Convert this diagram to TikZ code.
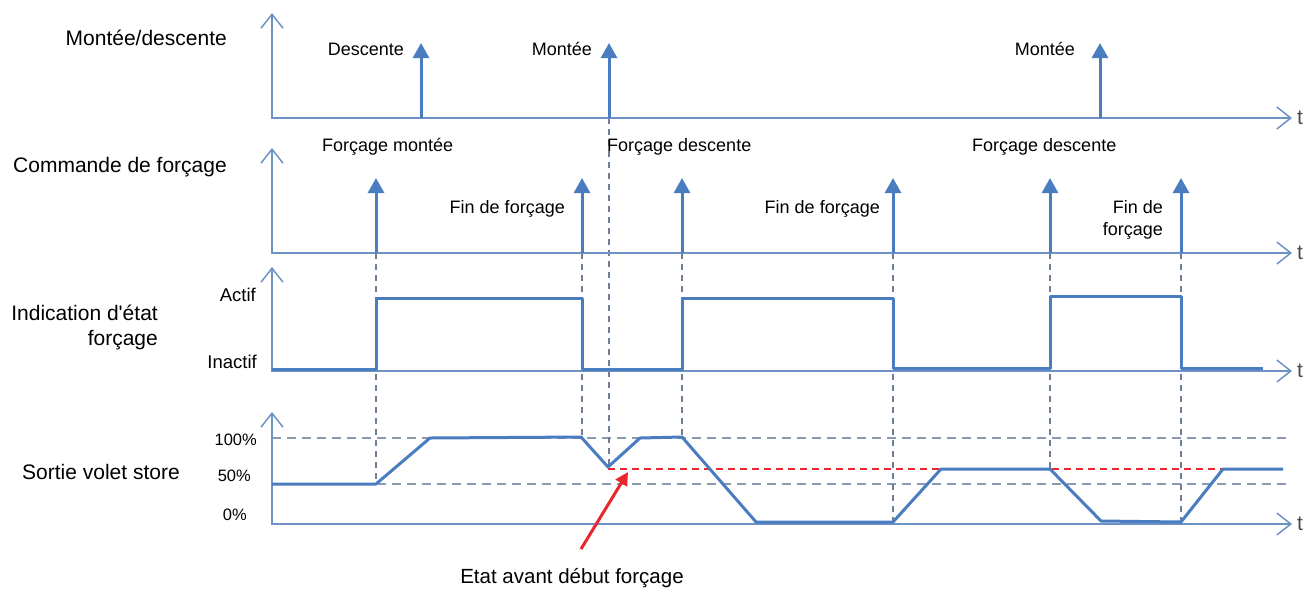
\documentclass[tikz,border=0pt]{standalone}
\usepackage{fontspec}
\setmainfont{Liberation Sans}
\usetikzlibrary{arrows.meta}

\definecolor{sigblue}{HTML}{4A7CC0}
\definecolor{axblue}{HTML}{6F92C6}
\definecolor{dashgray}{HTML}{6E7E98}
\definecolor{levgray}{HTML}{8A98B0}
\definecolor{markred}{HTML}{E8262B}

\tikzset{
  axis/.style={draw=axblue,line width=1.5pt,
    {Straight Barb[length=14pt,width=22pt]}-{Straight Barb[length=14pt,width=22pt]}},
  pulse/.style={draw=sigblue,line width=3pt,-{Triangle[length=15pt,width=16pt]}},
  signal/.style={draw=sigblue,line width=3pt,line join=round},
  guide/.style={draw=dashgray,line width=1.5pt,dash pattern=on 6pt off 5pt},
  level/.style={draw=levgray,line width=1.5pt,dash pattern=on 9pt off 6pt},
  keep/.style={draw=markred,line width=2pt,dash pattern=on 7pt off 5pt},
  rowlabel/.style={anchor=east,inner sep=0pt,font=\fontsize{21}{25}\selectfont},
  pulselabel/.style={inner sep=0pt,font=\fontsize{18}{22}\selectfont},
  ylabel/.style={anchor=east,inner sep=0pt,font=\fontsize{18.5}{22}\selectfont},
  pctlabel/.style={anchor=east,inner sep=0pt,font=\fontsize{16.5}{20}\selectfont},
  tlabel/.style={anchor=west,inner sep=0pt,text=black!70,font=\fontsize{21}{25}\selectfont}
}

\begin{document}
\begin{tikzpicture}[x=1pt,y=-1pt]
\useasboundingbox (0,0) rectangle (1305,590);

% levels and guides first
\draw[level] (272,438) -- (1290,438);
\draw[level] (272,484) -- (1290,484);
\draw[keep] (608,469) -- (1225,469);
\draw[guide] (376,253) -- (376,484);
\draw[guide] (582,253) -- (582,437);
\draw[guide] (609,118) -- (609,467);
\draw[guide] (682,253) -- (682,437);
\draw[guide] (893,253) -- (893,522);
\draw[guide] (1050,253) -- (1050,469);
\draw[guide] (1181,253) -- (1181,522);

% montee / descente
\draw[axis] (272,13) -- (272,118) -- (1292,118);
\node[tlabel] (t1) at (1297,118) {t};
\node[rowlabel] (lbl-updown) at (227,38) {Montée/descente};
\draw[pulse] (421,118) -- (421,43);
\draw[pulse] (609,118) -- (609,43);
\draw[pulse] (1100,118) -- (1100,43);
\node[pulselabel,anchor=east] (down1) at (404,49) {Descente};
\node[pulselabel,anchor=east] (up1) at (592,49) {Montée};
\node[pulselabel,anchor=east] (up2) at (1075,49) {Montée};

% commande de forcage
\draw[axis] (272,148) -- (272,253) -- (1292,253);
\node[tlabel] (t2) at (1297,253) {t};
\node[rowlabel] (lbl-cmd) at (227,167) {Commande de forçage};
\draw[pulse] (376,253) -- (376,178);
\draw[pulse] (582,253) -- (582,178);
\draw[pulse] (682,253) -- (682,178);
\draw[pulse] (893,253) -- (893,178);
\draw[pulse] (1050,253) -- (1050,178);
\draw[pulse] (1181,253) -- (1181,178);
\node[pulselabel,anchor=west] (fup) at (322,147) {Forçage montée};
\node[pulselabel,anchor=east] (fend1) at (565,209) {Fin de forçage};
\node[pulselabel,anchor=west] (fdown1) at (607,147) {Forçage descente};
\node[pulselabel,anchor=east] (fend2) at (880,209) {Fin de forçage};
\node[pulselabel,anchor=west] (fdown2) at (972,147) {Forçage descente};
\node[pulselabel,anchor=east,align=right] (fend3) at (1163,220) {Fin de\\forçage};

% indication d'etat forcage
\draw[axis] (272,267) -- (272,371) -- (1292,371);
\node[tlabel] (t3) at (1297,371) {t};
\node[rowlabel,align=right] (lbl-state) at (158,327) {Indication d\textquotesingle état\\forçage};
\node[ylabel] (on) at (256,295) {Actif};
\node[ylabel] (off) at (257,362) {Inactif};
\draw[signal] (272,369) -- (376,369) -- (376,298) -- (582,298) -- (582,369)
  -- (682,369) -- (682,298) -- (893,298) -- (893,368) -- (1050,368)
  -- (1050,296) -- (1181,296) -- (1181,368) -- (1263,368);

% sortie volet store
\draw[axis] (272,412) -- (272,524) -- (1292,524);
\node[tlabel] (t4) at (1297,524) {t};
\node[rowlabel,anchor=center] (lbl-out) at (101,472) {Sortie volet store};
\node[pctlabel] (p100) at (257,440) {100\%};
\node[pctlabel] (p50) at (251,476) {50\%};
\node[pctlabel] (p0) at (247,515) {0\%};
\draw[signal] (272,484) -- (376,484) -- (430,438) -- (581,437) -- (608,467)
  -- (640,438) -- (682,437) -- (756,522) -- (893,522) -- (941,469)
  -- (1050,469) -- (1101,521) -- (1181,522) -- (1223,469) -- (1283,469);

% etat avant debut forcage
\node[rowlabel,anchor=center,font=\fontsize{20.5}{24}\selectfont] (prev) at (572,578) {Etat avant début forçage};
\coordinate (prevtail) at (581,549);
\coordinate (prevtip) at (628,472);
\draw[markred,line width=3pt,-{Triangle[length=13pt,width=13pt]}] (prevtail) -- (prevtip);
\end{tikzpicture}
\end{document}
